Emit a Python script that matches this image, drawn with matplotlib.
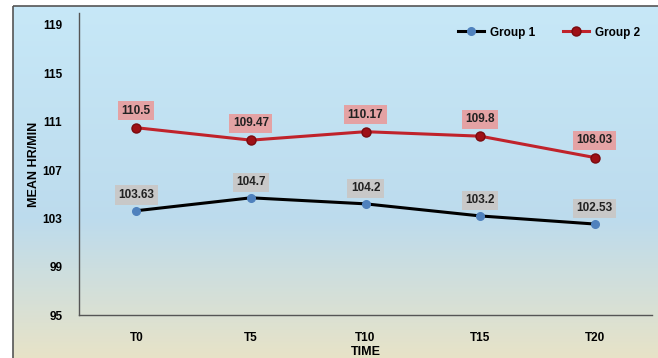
import numpy as np
import matplotlib
matplotlib.use("Agg")
import matplotlib.pyplot as plt
from matplotlib.patches import Rectangle

# Mean heart rate per time point
times = ["T0", "T5", "T10", "T15", "T20"]
group1 = [103.63, 104.7, 104.2, 103.2, 102.53]
group2 = [110.5, 109.47, 110.17, 109.8, 108.03]
y_ticks = [95, 99, 103, 107, 111, 115, 119]

plt.rcParams['font.family'] = ['Liberation Sans', 'DejaVu Sans']
plt.rcParams['font.weight'] = 'bold'

fig = plt.figure(figsize=(6.58, 3.58), dpi=100)

# background: blue-to-beige gradient inside a framed panel
bg = fig.add_axes([0, 0, 1, 1], zorder=0)
bg.set_xlim(0, 658)
bg.set_ylim(358, 0)
bg.axis('off')
top = np.array([0.78, 0.91, 0.97])
mid = np.array([0.74, 0.86, 0.93])
bot = np.array([0.91, 0.89, 0.78])
n = 256
t = np.linspace(0, 1, n)[:, None]
grad = np.where(t < 0.6, top + (mid - top) * (t / 0.6), mid + (bot - mid) * ((t - 0.6) / 0.4))
bg.imshow(grad[:, None, :], extent=[13, 660, 360, 6], aspect='auto', zorder=0)
bg.add_patch(Rectangle((13, 6), 660, 360, fill=False, edgecolor='#555555', lw=1.2, zorder=1))

ax = fig.add_axes([0.12, 0.12, 0.871, 0.844], zorder=1)
ax.patch.set_alpha(0)
x = np.arange(len(times))

ax.plot(x, group1, color='black', lw=2.2, marker='o', ms=5.5,
        mfc='#4f81bd', mec='#4f81bd', label='Group 1', zorder=3)
ax.plot(x, group2, color='#c0232b', lw=2.2, marker='o', ms=6.5,
        mfc='#9e1016', mec='#7a0a0e', label='Group 2', zorder=3)

for xi, v in zip(x, group1):
    ax.annotate(f"{v:g}", (xi, v), xytext=(0, 7), textcoords='offset points',
                ha='center', va='bottom', fontsize=8.5, fontweight='bold', color='#222222',
                bbox=dict(boxstyle='square,pad=0.3', fc='#c8c8c8', ec='none'))
for xi, v in zip(x, group2):
    ax.annotate(f"{v:g}", (xi, v), xytext=(0, 8), textcoords='offset points',
                ha='center', va='bottom', fontsize=8.5, fontweight='bold', color='#222222',
                bbox=dict(boxstyle='square,pad=0.3', fc='#e4a2a4', ec='none'))

ax.set_xlim(-0.5, len(times) - 0.5)
ax.set_ylim(95, 120)
ax.set_yticks(y_ticks)
ax.set_xticks(x)
ax.set_xticklabels(times)
ax.tick_params(length=0, labelsize=8.5)
ax.tick_params(axis='x', pad=12)
ax.tick_params(axis='y', pad=12)
for lab in ax.get_xticklabels() + ax.get_yticklabels():
    lab.set_fontweight('bold')
for s in ['top', 'right']:
    ax.spines[s].set_visible(False)
for s in ['left', 'bottom']:
    ax.spines[s].set_color('#555555')
    ax.spines[s].set_linewidth(1)

ax.set_xlabel("TIME", fontsize=9, fontweight='bold', labelpad=2)
ax.set_ylabel("MEAN HR/MIN", fontsize=9, fontweight='bold', labelpad=2)

ax.legend(loc='upper right', ncol=2, frameon=False,
          bbox_to_anchor=(0.998, 0.99), handlelength=2.2, handletextpad=0.5,
          columnspacing=2.4, prop={'weight': 'bold', 'size': 8.5})

fig.savefig("out.png", dpi=100)
